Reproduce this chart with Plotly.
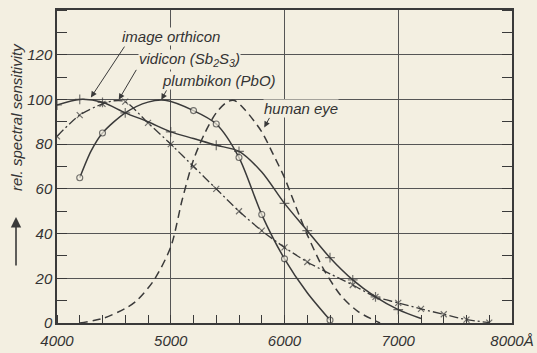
import plotly.graph_objects as go

BG = '#f3efe1'
INK = '#3a3a3a'
GRID = '#555555'
FONT = 'Liberation Sans'

x_ticks = [4000, 5000, 6000, 7000, 8000]
x_tick_labels = ['4000', '5000', '6000', '7000', '8000Å']
y_ticks = [0, 20, 40, 60, 80, 100, 120]
y_tick_labels = ['0', '20', '40', '60', '80', '100', '120']

orthicon_wl = [4000, 4200, 4400, 4600, 4800, 5000, 5200, 5400, 5600, 5800, 6000, 6200, 6400, 6600, 6800, 7000, 7200]
orthicon_val = [97.5, 100, 98.7, 94, 90, 85.5, 82.5, 79.5, 76.8, 67.5, 53.5, 41.3, 29.2, 19.3, 11.7, 6, 2]
orthicon_mark = [1, 1, 1, 1, 0, 1, 0, 1, 1, 0, 1, 1, 1, 1, 1, 1, 0]

vidicon_wl = [4000, 4200, 4400, 4500, 4600, 4800, 5000, 5200, 5400, 5600, 5800, 6000, 6200, 6400, 6600, 6800, 7000, 7200, 7400, 7600, 7800]
vidicon_val = [83.5, 93, 98, 99.4, 99, 89.5, 80, 70, 60, 50, 41.3, 33.8, 27.3, 22, 17, 11.7, 9, 6.3, 3.9, 1.5, 0.2]
vidicon_mark = [1, 1, 1, 0, 1, 1, 1, 1, 1, 1, 1, 1, 1, 0, 1, 1, 1, 1, 1, 1, 1]

plumbikon_wl = [4200, 4300, 4400, 4600, 4800, 4950, 5200, 5400, 5600, 5800, 6000, 6200, 6400]
plumbikon_val = [65, 77, 85, 94, 98.8, 99.6, 95, 89, 74, 48.5, 28.7, 13.5, 1.3]
plumbikon_mark = [1, 0, 1, 0, 0, 0, 1, 1, 1, 1, 1, 0, 1]

eye_wl = [4200, 4400, 4600, 4700, 4850, 5000, 5100, 5200, 5300, 5400, 5500, 5560, 5650, 5800, 5900, 6000, 6100, 6200, 6350, 6500, 6650, 6840]
eye_val = [0, 2, 6.5, 10, 19, 34, 55, 73, 85, 94, 99, 99.5, 95.5, 85.5, 75.5, 65, 52, 39.5, 23.5, 12, 5, 0]

fig = go.Figure()


def sizes(mask, s):
    return [s if m else 0 for m in mask]


fig.add_trace(go.Scatter(
    x=eye_wl, y=eye_val, mode='lines', line=dict(color=INK, width=1.5, dash='8px,5px', shape='spline', smoothing=0.8),
    name='human eye'))
fig.add_trace(go.Scatter(
    x=vidicon_wl, y=vidicon_val, mode='lines+markers',
    line=dict(color=INK, width=1.3, dash='9px,3px,2px,3px', shape='spline', smoothing=0.8),
    marker=dict(symbol='x-thin-open', size=sizes(vidicon_mark, 6), line=dict(color=INK, width=1.2)),
    name='vidicon'))
fig.add_trace(go.Scatter(
    x=orthicon_wl, y=orthicon_val, mode='lines+markers',
    line=dict(color=INK, width=1.5, shape='spline', smoothing=0.8),
    marker=dict(symbol='cross-thin-open', size=sizes(orthicon_mark, 7), line=dict(color=INK, width=1.2)),
    name='image orthicon'))
fig.add_trace(go.Scatter(
    x=plumbikon_wl, y=plumbikon_val, mode='lines+markers',
    line=dict(color=INK, width=1.5, shape='spline', smoothing=0.8),
    marker=dict(symbol='circle', size=sizes(plumbikon_mark, 6), color=BG, line=dict(color=INK, width=1.1)),
    name='plumbikon'))
# empty trace so that the right-hand tick axis is created
fig.add_trace(go.Scatter(x=[], y=[], yaxis='y2', mode='lines', hoverinfo='skip', showlegend=False))

tickfont = dict(family=FONT, size=15, color='#333', style='italic')
lblfont = dict(family=FONT, size=15, color='#333', style='italic')

fig.update_xaxes(
    range=[4000, 8000], tickmode='array', tickvals=x_ticks, ticktext=x_tick_labels,
    showgrid=True, gridcolor=GRID, gridwidth=1, zeroline=False,
    showline=True, linecolor=INK, linewidth=1.5, mirror=True,
    ticks='', tickfont=tickfont, ticklabelstandoff=3, automargin=False,
    minor=dict(tickmode='linear', tick0=4000, dtick=200, ticks='inside', ticklen=8, tickcolor=INK, tickwidth=1, showgrid=False))
fig.update_layout(yaxis=dict(
    range=[0, 140], tickmode='array', tickvals=y_ticks, ticktext=y_tick_labels,
    showgrid=True, gridcolor=GRID, gridwidth=1, zeroline=False,
    showline=True, linecolor=INK, linewidth=1.5, mirror=True,
    ticks='', tickfont=tickfont, automargin=False,
    minor=dict(tickmode='linear', tick0=0, dtick=10, ticks='inside', ticklen=10, tickcolor=INK, tickwidth=1, showgrid=False)))

labels = [
    ('image orthicon', 5004, 128, 4602, 124.3, 4298, 100.9),
    ('vidicon (Sb<sub>2</sub>S<sub>3</sub>)', 5164, 117.8, 4705, 113.9, 4543, 99.9),
    ('plumbikon (PbO)', 5425, 108.4, 4970, 104.7, 4917, 99.9),
    ('human eye', 6142, 96, 5875, 92.4, 5822, 87.5),
]
for text, tx, ty, ax, ay, hx, hy in labels:
    fig.add_annotation(x=tx, y=ty, xref='x', yref='y', text=text, showarrow=False,
                       xanchor='center', yanchor='middle',
                       font=lblfont, bgcolor=BG, borderpad=0)
    fig.add_annotation(x=hx, y=hy, xref='x', yref='y', ax=ax, ay=ay, axref='x', ayref='y',
                       text='', showarrow=True, arrowhead=2, arrowsize=1.2, arrowwidth=1, arrowcolor=INK,
                       standoff=0, startstandoff=0)

fig.add_annotation(x=-0.0901, y=0.658, xref='paper', yref='paper', text='rel. spectral sensitivity',
                   xanchor='center', yanchor='middle',
                   textangle=-90, showarrow=False, font=lblfont)
fig.add_annotation(x=-0.0901, y=0.3387, xref='paper', yref='paper', ax=0, ay=50, text='',
                   showarrow=True, arrowhead=2, arrowsize=1.3, arrowwidth=1.6, arrowcolor=INK)

fig.update_layout(
    width=537, height=353, margin=dict(l=57, r=25, t=10, b=30),
    paper_bgcolor=BG, plot_bgcolor=BG, showlegend=False,
    yaxis2=dict(overlaying='y', side='right', anchor='x', range=[0, 140], showgrid=False, zeroline=False,
                showline=False, showticklabels=False, ticks='', tickmode='array', tickvals=y_ticks,
                automargin=False,
                minor=dict(tickmode='linear', tick0=0, dtick=10, ticks='inside', ticklen=10,
                           tickcolor=INK, tickwidth=1, showgrid=False)))

fig.write_html('out.html')
